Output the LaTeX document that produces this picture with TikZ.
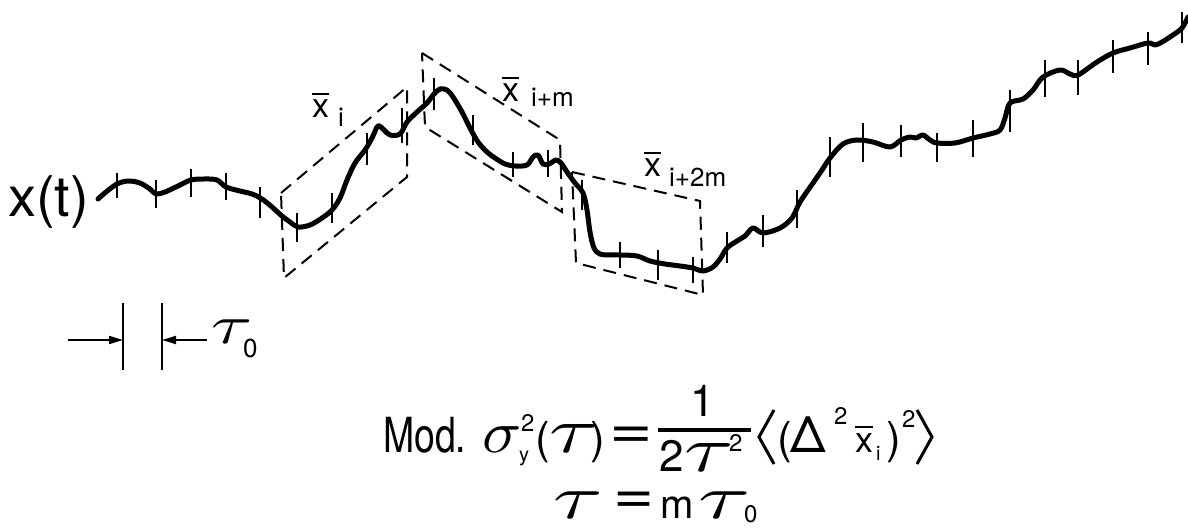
\documentclass[tikz,border=0pt]{standalone}
\usepackage{fontspec}
\setmainfont{TeX Gyre Heros}
\usetikzlibrary{arrows.meta}
\newcommand\xbar{\vbox{\hrule height 2.4pt\kern 5pt\hbox{x}}}
\newcommand\gk[3]{\scalebox{#1}[#2]{$#3$}}
\begin{document}
\begin{tikzpicture}[x=1pt,y=-1pt,
  curve/.style={line width=5pt,line cap=round,line join=round},
  tickmark/.style={line width=2.2pt},
  boxline/.style={line width=2pt,dash pattern=on 13pt off 8pt},
  arr/.style={line width=2pt,-{Triangle[length=14pt,width=8pt]}},
  lbl/.style={inner sep=0pt,font=\fontsize{34}{36}\selectfont},
  sublbl/.style={inner sep=0pt,font=\fontsize{26}{28}\selectfont},
  fm/.style={inner sep=0pt,font=\fontsize{44}{48}\selectfont},
  sc/.style={inner sep=0pt,font=\fontsize{24}{26}\selectfont},
  brk/.style={line width=3pt,line join=miter}]
\useasboundingbox (0,0) rectangle (1188,529);
% signal
\draw[curve] plot[smooth,tension=0.55] coordinates {
(98,199) (106,192) (117,184) (128,181) (140,183) (150,189) (156,194) (165,192) (178,186) (191,180) (205,179) (217,180) (226,187) (240,191) (252,194) (262,199) (272,207) (282,216) (290,222) (298,227) (310,225) (322,218) (332,210) (340,198) (347,180) (355,163) (365,150) (372,138) (378,126) (384,130) (390,135) (400,134) (407,122) (417,112) (427,103) (434,94) (440,89) (447,90) (453,97) (462,112) (470,128) (478,142) (487,152) (495,158) (505,164) (515,166) (527,165) (533,157) (538,155) (543,164) (549,164) (556,160) (561,163) (567,172) (575,183) (583,193) (587,210) (590,232) (594,248) (600,254) (610,255) (620,255) (637,256) (650,261) (665,264) (680,266) (693,268) (703,271) (713,267) (720,259) (727,248) (737,241) (745,236) (753,228) (763,233) (780,228) (792,218) (800,202) (813,183) (822,170) (830,158) (843,144) (857,140) (873,142) (890,147) (901,140) (910,137) (916,138) (923,135) (930,140) (937,143) (955,143) (973,138) (990,134) (1000,130) (1005,118) (1010,103) (1023,99) (1033,90) (1043,77) (1060,70) (1070,74) (1078,75) (1097,62) (1113,53) (1130,48) (1148,43) (1155,45) (1162,42) (1173,35) (1182,28) (1188,17)};
\foreach \x/\a/\b in {117/173/198,156/180/208,191/169/197,226/173/200,260/187/218,297/213/242,332/193/223,367/133/165,402/108/143,434/78/110,473/115/145,513/152/177,548/150/177,582/180/210,620/242/268,658/250/280,693/257/283,727/232/263,763/215/247,797/190/228,830/137/177,863/123/162,901/125/157,937/133/162,973/120/157,1010/90/132,1045/60/97,1078/60/95,1113/40/73,1148/32/65,1182/12/43}
  \draw[tickmark] (\x,\a) -- (\x,\b);
% averaging windows
\draw[boxline] (281,193) -- (407,87) -- (407,177) -- (284,278) -- cycle;
\draw[boxline] (422,53) -- (560,140) -- (562,212) -- (425,127) -- cycle;
\draw[boxline] (572,172) -- (700,201) -- (703,295) -- (576,263) -- cycle;
% labels
\node[inner sep=0pt,anchor=base west,font=\fontsize{56}{60}\selectfont] (xt) at (8,217) {x(t)};
\node[lbl,anchor=base west] (l1) at (312,118) {\xbar};
\node[sublbl,anchor=base west] (l1s) at (338,127) {i};
\node[lbl,anchor=base west] (l2) at (502,102) {\xbar};
\node[sublbl,anchor=base west] (l2s) at (531,107) {i+m};
\node[lbl,anchor=base west] (l3) at (644,177) {\xbar};
\node[sublbl,anchor=base west] (l3s) at (669,187) {i+2m};
% tau0 marker
\coordinate (m1t) at (123,303); \coordinate (m1b) at (123,370);
\coordinate (m2t) at (162,303); \coordinate (m2b) at (162,370);
\coordinate (m1a) at (68,340); \coordinate (m1e) at (123,340);
\coordinate (m2a) at (207,340); \coordinate (m2e) at (162,340);
\draw[tickmark] (m1t) -- (m1b);
\draw[tickmark] (m2t) -- (m2b);
\draw[arr] (m1a) -- (m1e);
\draw[arr] (m2a) -- (m2e);
\node[inner sep=0pt,anchor=base west] (t0) at (211,343) {\gk{7.5}{5.5}{\tau}};
\node[sc,font=\fontsize{26}{28}\selectfont,anchor=base west] (t0s) at (243,357) {0};
% formula row 1
\node[fm,anchor=base west] (mod) at (383,452) {\scalebox{0.85}[1.1]{Mod.}};
\node[inner sep=0pt,anchor=base west] (sig) at (482,452) {\gk{6.5}{6}{\sigma}};
\node[sc,font=\fontsize{20}{22}\selectfont,anchor=base west] (sigy) at (519,461) {y};
\node[sc,anchor=base west] (sig2) at (521,431) {2};
\node[fm,anchor=base west] (lp1) at (535,453) {(};
\node[inner sep=0pt,anchor=base west] (tau1) at (549,452) {\gk{9}{6.5}{\tau}};
\node[fm,anchor=base west] (rp1) at (590,453) {)};
\node[fm,anchor=center] (eq1) at (631,438) {\scalebox{1.7}[1.3]{=}};
\node[fm,anchor=base] (num) at (703,416) {1};
\coordinate (fb1) at (658,430); \coordinate (fb2) at (751,430);
\draw[line width=3.5pt] (fb1) -- (fb2);
\node[fm,anchor=base west] (den2) at (659,471) {2};
\node[inner sep=0pt,anchor=base west] (dent) at (684,471) {\gk{9}{6.5}{\tau}};
\node[sc,anchor=base west] (den22) at (729,451) {2};
\coordinate (la1) at (774,410); \coordinate (la2) at (759,437); \coordinate (la3) at (774,464);
\draw[brk] (la1) -- (la2) -- (la3);
\node[fm,anchor=base west] (lp2) at (777,453) {(};
\node[inner sep=0pt,font=\fontsize{50}{54}\selectfont,anchor=base west] (del) at (790,452) {Δ};
\node[sc,anchor=base west] (del2) at (834,424) {2};
\node[inner sep=0pt,font=\fontsize{36}{40}\selectfont,anchor=base west] (xb) at (855,452) {\xbar};
\node[sc,font=\fontsize{20}{22}\selectfont,anchor=base west] (xbi) at (876,460) {i};
\node[fm,anchor=base west] (rp2) at (886,453) {)};
\node[sc,anchor=base west] (sq2) at (902,427) {2};
\coordinate (ra1) at (917,410); \coordinate (ra2) at (932,437); \coordinate (ra3) at (917,464);
\draw[brk] (ra1) -- (ra2) -- (ra3);
% formula row 2
\node[inner sep=0pt,anchor=base west] (tau2) at (553,518) {\gk{9}{6.2}{\tau}};
\node[fm,anchor=center] (eq2) at (634,503) {\scalebox{1.6}[1.3]{=}};
\node[fm,font=\fontsize{40}{44}\selectfont,anchor=base west] (m) at (660,518) {m};
\node[inner sep=0pt,anchor=base west] (tau3) at (698,518) {\gk{9.5}{6.2}{\tau}};
\node[sc,anchor=base west] (tau3s) at (744,522) {0};
\end{tikzpicture}
\end{document}
